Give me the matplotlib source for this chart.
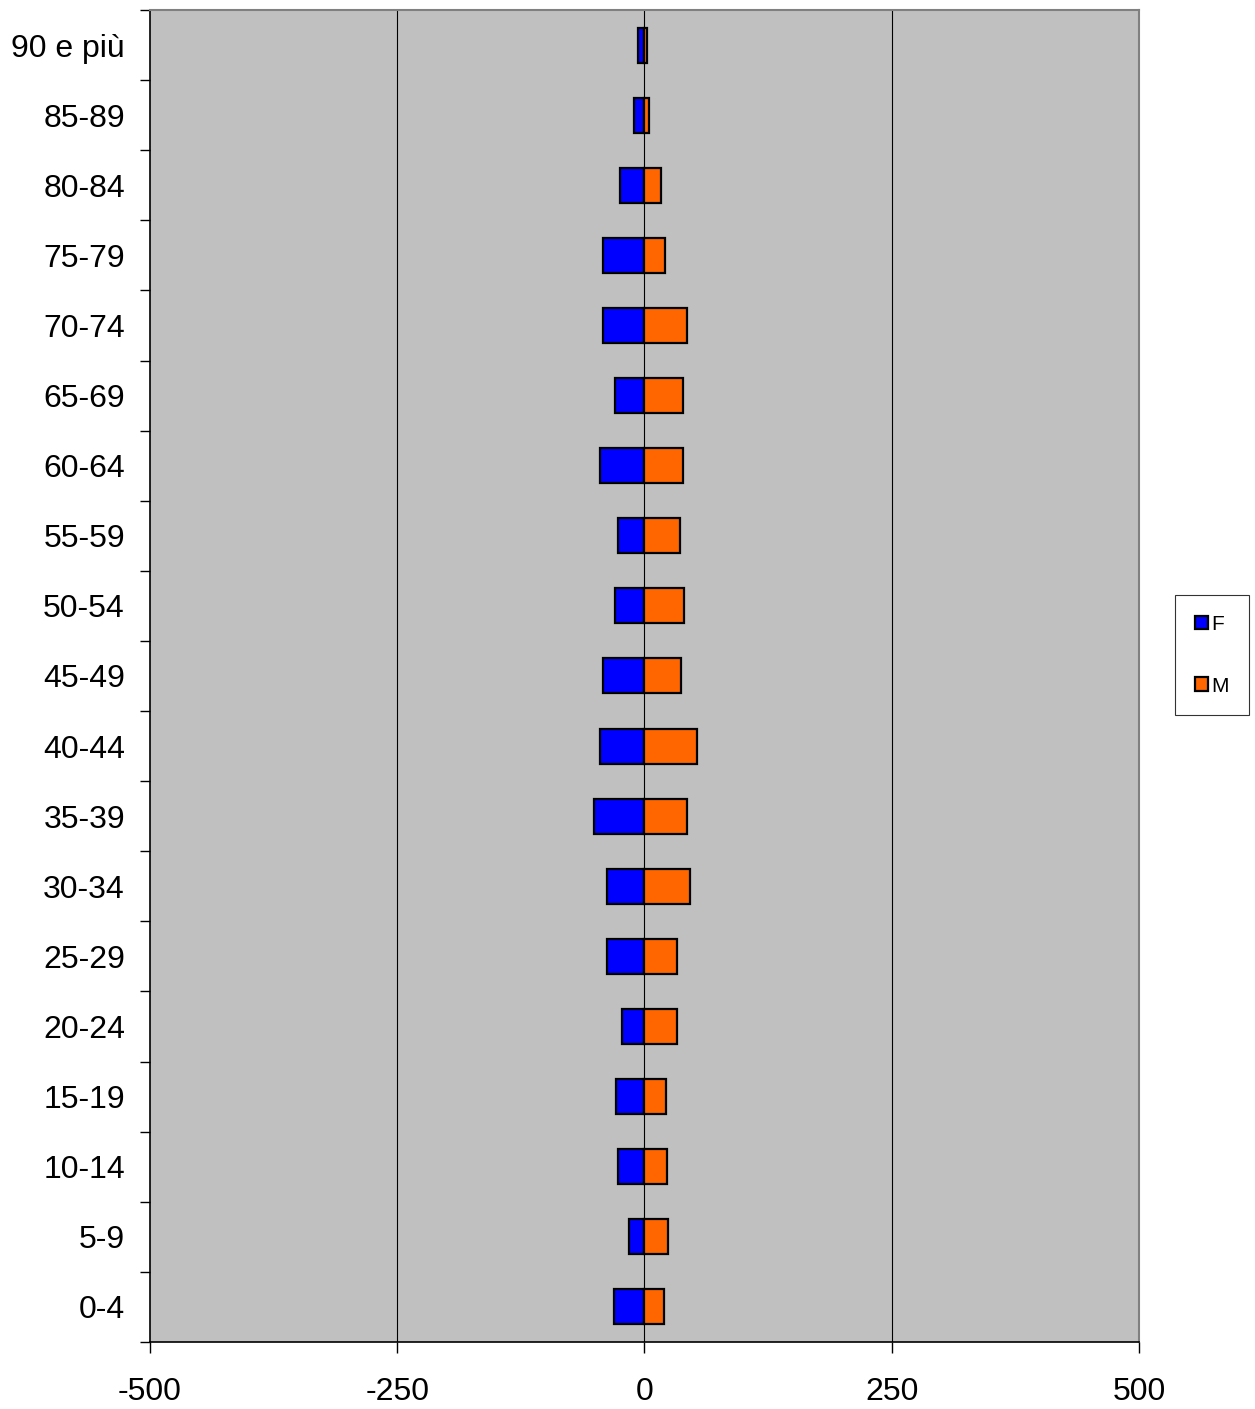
import numpy as np
import matplotlib.pyplot as plt

plt.rcParams['font.family'] = ['Liberation Sans', 'DejaVu Sans']

# fasce d'età dal basso verso l'alto
eta = ['0-4', '5-9', '10-14', '15-19', '20-24', '25-29', '30-34', '35-39',
       '40-44', '45-49', '50-54', '55-59', '60-64', '65-69', '70-74',
       '75-79', '80-84', '85-89', '90 e più']
femmine = [31, 16, 27, 29, 23, 38, 38, 51, 45, 42, 30, 27, 45, 30, 42, 42, 25, 11, 7]
maschi = [20, 24, 23, 22, 33, 33, 46, 43, 53, 37, 40, 36, 39, 39, 43, 21, 17, 5, 3]

y = np.arange(len(eta))

fig = plt.figure(figsize=(12.55, 14.09), dpi=100)
ax = fig.add_axes([0.1195, 0.0476, 0.788, 0.9453])
ax.set_facecolor('#c0c0c0')

ax.barh(y, -np.array(femmine), height=0.5, color='#0000ff', edgecolor='black',
        linewidth=1.6, label='F', zorder=3)
ax.barh(y, maschi, height=0.5, color='#ff6600', edgecolor='black',
        linewidth=1.6, label='M', zorder=3)

ax.set_xlim(-500, 500)
ax.set_ylim(-0.5, len(eta) - 0.5)

ax.set_xticks([-500, -250, 0, 250, 500])
ax.set_xticklabels(['-500', '-250', '0', '250', '500'], fontsize=23)
for xv in [-250, 0, 250]:
    ax.axvline(xv, color='black', linewidth=0.8, zorder=1)

# tacche ai confini delle fasce, etichette al centro
ax.set_yticks(np.arange(len(eta) + 1) - 0.5)
ax.set_yticklabels([])
ax.set_yticks(y, minor=True)
ax.set_yticklabels(eta, minor=True, fontsize=23)
ax.tick_params(axis='y', which='major', length=7, width=1, direction='out')
ax.tick_params(axis='y', which='minor', length=0, pad=18)
ax.tick_params(axis='x', length=8, width=1, direction='out', pad=17)

ax.spines['left'].set_linewidth(1.2)
ax.spines['bottom'].set_linewidth(1.2)
ax.spines['top'].set_color('#808080')
ax.spines['right'].set_color('#808080')
ax.spines['top'].set_linewidth(1.5)
ax.spines['right'].set_linewidth(1.5)

leg = fig.legend(loc='center left', bbox_to_anchor=(0.9363, 0.535), fontsize=15,
                 frameon=True, fancybox=False, edgecolor='black', handlelength=0.65,
                 handleheight=0.65, handletextpad=0.15, labelspacing=2.05,
                 borderpad=0.95, borderaxespad=0)
leg.get_frame().set_linewidth(0.8)

fig.savefig('out.png', dpi=100)
